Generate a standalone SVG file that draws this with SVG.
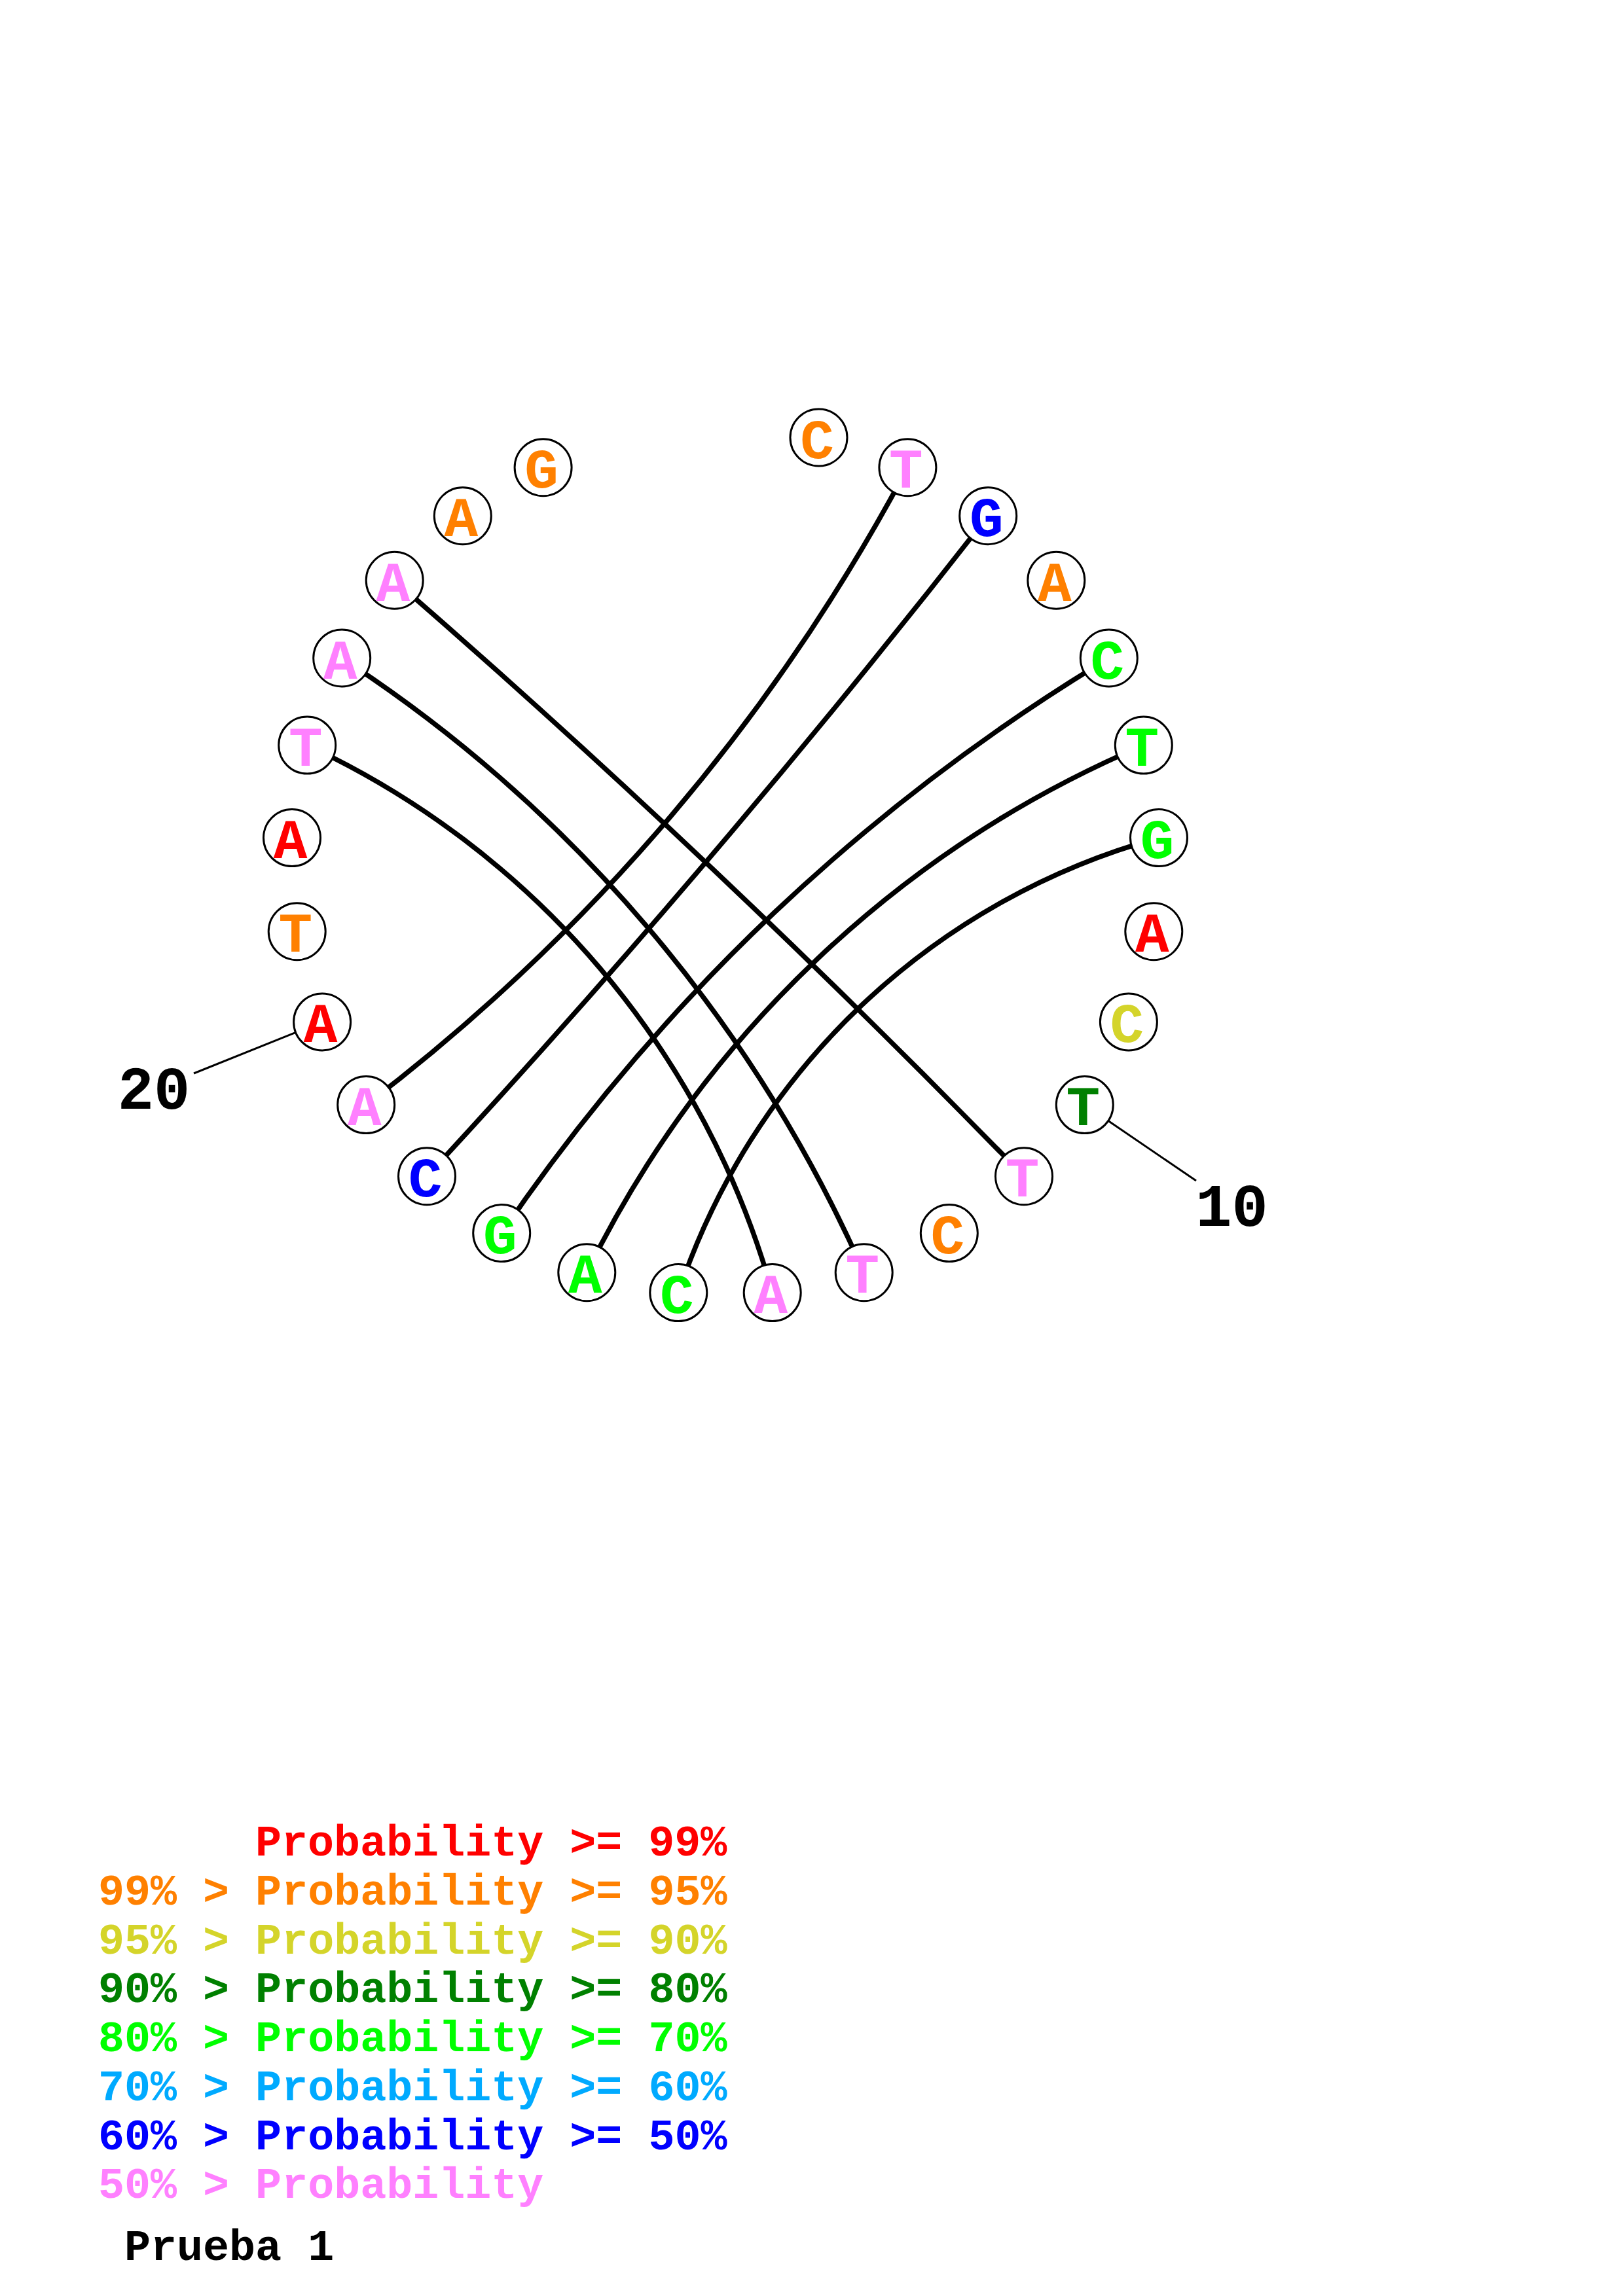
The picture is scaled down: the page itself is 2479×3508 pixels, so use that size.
<svg xmlns="http://www.w3.org/2000/svg" width="2479" height="3508" viewBox="0 0 2479 3508">
<style>
.bg{fill:#ffffff}
.arc{fill:none;stroke:#000;stroke-width:7.5}
.lead{fill:none;stroke:#000;stroke-width:3}
.nc{fill:#ffffff;stroke:#000;stroke-width:3}
.nt{font-family:"Liberation Mono","Courier New",monospace;font-weight:bold;font-size:86px;text-anchor:middle}
.num{font-family:"Liberation Mono","Courier New",monospace;font-weight:bold;font-size:92px;text-anchor:middle;fill:#000}
.lg{font-family:"Liberation Mono","Courier New",monospace;font-weight:bold;font-size:66.7px}
.red{fill:#FF0000}.ora{fill:#FF8000}.yel{fill:#D4D42A}.dgr{fill:#008000}.grn{fill:#00FF00}.lbl{fill:#00AAFF}.blu{fill:#0000FF}.pnk{fill:#FF80FF}.blk{fill:#000}
</style>
<rect class="bg" x="0" y="0" width="2479" height="3508"/>
<g id="connectors">
<path class="arc" d="M1386.4 714.3 A2985 2985 0 0 1 559.2 1688.1"/>
<path class="arc" d="M1509.2 788.2 A15659 15659 0 0 1 652.0 1797.3"/>
<path class="arc" d="M1693.8 1005.5 A2985 2985 0 0 0 766.2 1884.1"/>
<path class="arc" d="M1746.8 1138.6 A1676 1676 0 0 0 896.3 1944.3"/>
<path class="arc" d="M1770.0 1280.1 A1073 1073 0 0 0 1036.3 1975.1"/>
<path class="arc" d="M602.7 886.8 A15659 15659 0 0 1 1564.0 1797.3"/>
<path class="arc" d="M522.2 1005.5 A2162 2162 0 0 1 1319.7 1944.3"/>
<path class="arc" d="M469.2 1138.6 A1312 1312 0 0 1 1179.7 1975.1"/>
<line class="lead" x1="451.2" y1="1577.7" x2="296" y2="1640"/>
<line class="lead" x1="1693.2" y1="1712.8" x2="1827" y2="1804"/>
</g>
<g id="n1"><circle class="nc" cx="1250.5" cy="668.5" r="43.5"/><text class="nt ora" x="1248" y="699.5">C</text></g>
<g id="n2"><circle class="nc" cx="1386.4" cy="714.3" r="43.5"/><text class="nt pnk" x="1383.9" y="745.3">T</text></g>
<g id="n3"><circle class="nc" cx="1509.2" cy="788.2" r="43.5"/><text class="nt blu" x="1506.7" y="819.2">G</text></g>
<g id="n4"><circle class="nc" cx="1613.3" cy="886.8" r="43.5"/><text class="nt ora" x="1610.8" y="917.8">A</text></g>
<g id="n5"><circle class="nc" cx="1693.8" cy="1005.5" r="43.5"/><text class="nt grn" x="1691.3" y="1036.5">C</text></g>
<g id="n6"><circle class="nc" cx="1746.8" cy="1138.6" r="43.5"/><text class="nt grn" x="1744.3" y="1169.6">T</text></g>
<g id="n7"><circle class="nc" cx="1770.0" cy="1280.1" r="43.5"/><text class="nt grn" x="1767.5" y="1311.1">G</text></g>
<g id="n8"><circle class="nc" cx="1762.3" cy="1423.3" r="43.5"/><text class="nt red" x="1759.8" y="1454.3">A</text></g>
<g id="n9"><circle class="nc" cx="1723.9" cy="1561.4" r="43.5"/><text class="nt yel" x="1721.4" y="1592.4">C</text></g>
<g id="n10"><circle class="nc" cx="1656.8" cy="1688.1" r="43.5"/><text class="nt dgr" x="1654.3" y="1719.1">T</text></g>
<g id="n11"><circle class="nc" cx="1564.0" cy="1797.3" r="43.5"/><text class="nt pnk" x="1561.5" y="1828.3">T</text></g>
<g id="n12"><circle class="nc" cx="1449.8" cy="1884.1" r="43.5"/><text class="nt ora" x="1447.3" y="1915.1">C</text></g>
<g id="n13"><circle class="nc" cx="1319.7" cy="1944.3" r="43.5"/><text class="nt pnk" x="1317.2" y="1975.3">T</text></g>
<g id="n14"><circle class="nc" cx="1179.7" cy="1975.1" r="43.5"/><text class="nt pnk" x="1177.2" y="2006.1">A</text></g>
<g id="n15"><circle class="nc" cx="1036.3" cy="1975.1" r="43.5"/><text class="nt grn" x="1033.8" y="2006.1">C</text></g>
<g id="n16"><circle class="nc" cx="896.3" cy="1944.3" r="43.5"/><text class="nt grn" x="893.8" y="1975.3">A</text></g>
<g id="n17"><circle class="nc" cx="766.2" cy="1884.1" r="43.5"/><text class="nt grn" x="763.7" y="1915.1">G</text></g>
<g id="n18"><circle class="nc" cx="652.0" cy="1797.3" r="43.5"/><text class="nt blu" x="649.5" y="1828.3">C</text></g>
<g id="n19"><circle class="nc" cx="559.2" cy="1688.1" r="43.5"/><text class="nt pnk" x="556.7" y="1719.1">A</text></g>
<g id="n20"><circle class="nc" cx="492.1" cy="1561.4" r="43.5"/><text class="nt red" x="489.6" y="1592.4">A</text></g>
<g id="n21"><circle class="nc" cx="453.7" cy="1423.3" r="43.5"/><text class="nt ora" x="451.2" y="1454.3">T</text></g>
<g id="n22"><circle class="nc" cx="446.0" cy="1280.1" r="43.5"/><text class="nt red" x="443.5" y="1311.1">A</text></g>
<g id="n23"><circle class="nc" cx="469.2" cy="1138.6" r="43.5"/><text class="nt pnk" x="466.7" y="1169.6">T</text></g>
<g id="n24"><circle class="nc" cx="522.2" cy="1005.5" r="43.5"/><text class="nt pnk" x="519.7" y="1036.5">A</text></g>
<g id="n25"><circle class="nc" cx="602.7" cy="886.8" r="43.5"/><text class="nt pnk" x="600.2" y="917.8">A</text></g>
<g id="n26"><circle class="nc" cx="706.8" cy="788.2" r="43.5"/><text class="nt ora" x="704.3" y="819.2">A</text></g>
<g id="n27"><circle class="nc" cx="829.6" cy="714.3" r="43.5"/><text class="nt ora" x="827.1" y="745.3">G</text></g>
<g id="label20"><text class="num" x="235" y="1694">20</text></g>
<g id="label10"><text class="num" x="1881.5" y="1873">10</text></g>
<g id="legend">
<text class="lg red" x="390" y="2835">Probability &gt;= 99%</text>
<text class="lg ora" x="150" y="2910">99% &gt; Probability &gt;= 95%</text>
<text class="lg yel" x="150" y="2985">95% &gt; Probability &gt;= 90%</text>
<text class="lg dgr" x="150" y="3059">90% &gt; Probability &gt;= 80%</text>
<text class="lg grn" x="150" y="3134">80% &gt; Probability &gt;= 70%</text>
<text class="lg lbl" x="150" y="3209">70% &gt; Probability &gt;= 60%</text>
<text class="lg blu" x="150" y="3284">60% &gt; Probability &gt;= 50%</text>
<text class="lg pnk" x="150" y="3358">50% &gt; Probability</text>
<text class="lg blk" x="190" y="3453">Prueba 1</text>
</g>
</svg>
